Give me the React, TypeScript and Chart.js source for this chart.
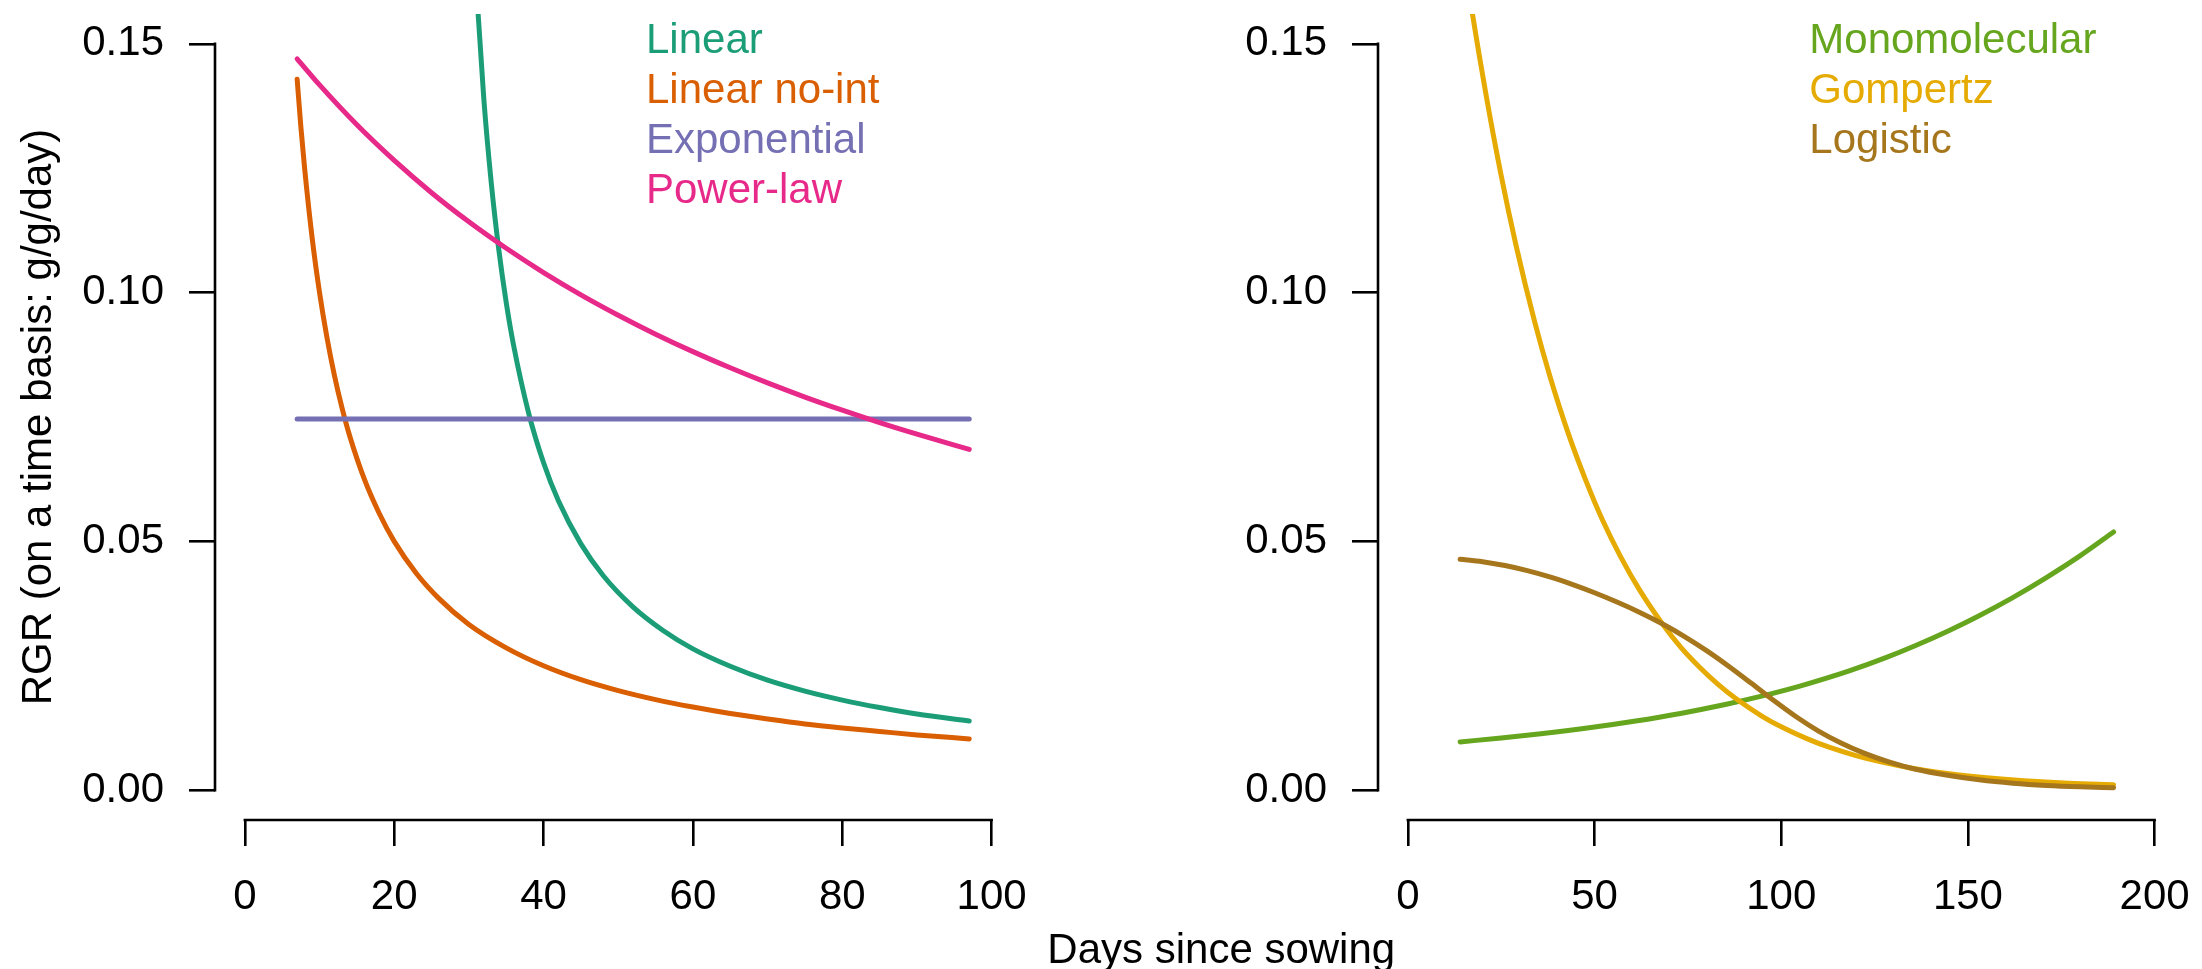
import React, { useEffect, useRef } from "react";
import { Chart, registerables } from "chart.js";

Chart.register(...registerables);

const W = 2202;
const H = 969;
const FONT = "'Liberation Sans', Arial, Helvetica, sans-serif";
const FS = 42;

// ---------- tick labels / titles ----------
const yTicks = [0, 0.05, 0.1, 0.15];
const leftXTicks = [0, 20, 40, 60, 80, 100];
const rightXTicks = [0, 50, 100, 150, 200];
const yTitle = "RGR (on a time basis: g/g/day)";
const xTitle = "Days since sowing";

// ---------- left panel series ----------
const linearDays = [30.5, 31, 32, 33, 34, 35, 36, 38, 40, 42, 45, 48, 52, 56, 60, 65, 70, 75, 80, 85, 90, 97];
const linearRGR = [0.1754, 0.1613, 0.1389, 0.122, 0.1087, 0.098, 0.0893, 0.0758, 0.0658, 0.0581, 0.0495, 0.0431, 0.0368, 0.0321, 0.0284, 0.0249, 0.0221, 0.0199, 0.0181, 0.0166, 0.0153, 0.0139];

const linearNoIntDays = [7, 7.5, 8, 9, 10, 11, 12, 13, 14, 16, 18, 20, 23, 26, 30, 35, 40, 45, 50, 55, 60, 65, 70, 75, 80, 85, 90, 97];
const linearNoIntRGR = [0.1429, 0.1333, 0.125, 0.1111, 0.1, 0.0909, 0.0833, 0.0769, 0.0714, 0.0625, 0.0556, 0.05, 0.0435, 0.0385, 0.0333, 0.0286, 0.025, 0.0222, 0.02, 0.0182, 0.0167, 0.0154, 0.0143, 0.0133, 0.0125, 0.0118, 0.0111, 0.0103];

const exponentialDays = [7, 97];
const exponentialRGR = [0.0746, 0.0746];

const powerDays = [7, 10, 15, 20, 25, 30, 35, 40, 45, 50, 55, 60, 65, 70, 75, 80, 85, 90, 97];
const powerRGR = [0.147, 0.14174, 0.13373, 0.12657, 0.12008, 0.11423, 0.10891, 0.10403, 0.09956, 0.09546, 0.09165, 0.08814, 0.08489, 0.08185, 0.07901, 0.07637, 0.07388, 0.07156, 0.0685];

// ---------- right panel series ----------
const monoDays = [14, 25, 35, 50, 61, 73, 85, 95, 105, 118, 128, 136, 145, 153, 162, 171, 180, 189];
const monoRGR = [0.0097, 0.01048, 0.01128, 0.01268, 0.01389, 0.01542, 0.01721, 0.01894, 0.02091, 0.02391, 0.02662, 0.02907, 0.0321, 0.03506, 0.03871, 0.04274, 0.0471, 0.0519];

const gompDays = [14, 17, 21, 25, 29, 34, 38, 43, 48, 52, 57, 62, 68, 73, 78, 83, 88, 95, 100, 107, 113, 120, 127, 135, 145, 155, 165, 177, 189];
const gompRGR = [0.1724, 0.1574, 0.1395, 0.1235, 0.1094, 0.094, 0.0833, 0.0716, 0.0616, 0.0545, 0.0469, 0.0403, 0.0336, 0.0288, 0.0248, 0.0213, 0.0183, 0.0148, 0.01273, 0.0103, 0.00858, 0.00695, 0.00562, 0.00441, 0.00328, 0.00248, 0.00189, 0.0014, 0.0011];

const logDays = [14, 20, 26, 32, 38, 44, 50, 56, 62, 68, 74, 80, 86, 92, 98, 104, 110, 116, 122, 129, 136, 145, 153, 162, 171, 180, 189];
const logRGR = [0.0464, 0.04592, 0.04514, 0.04412, 0.04286, 0.04136, 0.03968, 0.03782, 0.03578, 0.0335, 0.03092, 0.02804, 0.02486, 0.02147, 0.01802, 0.01475, 0.01187, 0.00947, 0.00749, 0.00563, 0.0042, 0.00294, 0.00208, 0.0014, 0.00095, 0.00067, 0.0005];

type Series = { label: string; days: number[]; rgr: number[]; color: string };

const leftSeries: Series[] = [
  { label: "Linear", days: linearDays, rgr: linearRGR, color: "#1B9E77" },
  { label: "Linear no-int", days: linearNoIntDays, rgr: linearNoIntRGR, color: "#D95F02" },
  { label: "Exponential", days: exponentialDays, rgr: exponentialRGR, color: "#7570B3" },
  { label: "Power-law", days: powerDays, rgr: powerRGR, color: "#E7298A" },
];

const rightSeries: Series[] = [
  { label: "Monomolecular", days: monoDays, rgr: monoRGR, color: "#66A61E" },
  { label: "Gompertz", days: gompDays, rgr: gompRGR, color: "#E6AB02" },
  { label: "Logistic", days: logDays, rgr: logRGR, color: "#A6761D" },
];

function makeDatasets(series: Series[]) {
  return series.map((s, i) => ({
    label: s.label,
    data: s.days.map((d, j) => ({ x: d, y: s.rgr[j] })),
    borderColor: s.color,
    backgroundColor: s.color,
    borderWidth: 5,
    pointRadius: 0,
    pointHoverRadius: 0,
    fill: false,
    cubicInterpolationMode: "monotone" as const,
    borderCapStyle: "round" as const,
    borderJoinStyle: "round" as const,
    clip: 0,
    order: series.length - i,
  }));
}

// R-style axis lines (span first..last tick) and text legend
const rDecor = {
  id: "rDecor",
  afterDraw(chart: any, _args: any, opts: any) {
    const { ctx, chartArea, scales } = chart;
    const xs = scales.x;
    const ys = scales.y;
    const xt = xs.ticks.map((t: any) => t.value);
    const yt = ys.ticks.map((t: any) => t.value);
    ctx.save();
    ctx.strokeStyle = "#000";
    ctx.lineWidth = 2.6;
    ctx.lineCap = "square";
    ctx.beginPath();
    ctx.moveTo(xs.getPixelForValue(xt[0]), chartArea.bottom);
    ctx.lineTo(xs.getPixelForValue(xt[xt.length - 1]), chartArea.bottom);
    ctx.moveTo(chartArea.left, ys.getPixelForValue(yt[0]));
    ctx.lineTo(chartArea.left, ys.getPixelForValue(yt[yt.length - 1]));
    ctx.stroke();

    ctx.font = `${FS}px ${FONT}`;
    ctx.textAlign = "left";
    ctx.textBaseline = "alphabetic";
    chart.data.datasets.forEach((ds: any, i: number) => {
      ctx.fillStyle = ds.borderColor;
      ctx.fillText(ds.label, chartArea.left + opts.dx, chartArea.top + opts.dy + i * opts.gap);
    });
    ctx.restore();
  },
};

const gridOpts = {
  display: true,
  drawOnChartArea: false,
  drawTicks: true,
  tickLength: 26,
  color: "#000",
  lineWidth: 2.6,
};

function xScale(ticks: number[], min: number, max: number, height: number) {
  return {
    type: "linear" as const,
    min,
    max,
    bounds: "data" as const,
    afterBuildTicks: (s: any) => {
      s.ticks = ticks.map((v) => ({ value: v }));
    },
    afterFit: (s: any) => {
      s.height = height;
      s.paddingLeft = 0;
      s.paddingRight = 0;
      s.paddingTop = 0;
      s.paddingBottom = 0;
    },
    grid: gridOpts,
    border: { display: false },
    ticks: {
      color: "#000",
      font: { family: FONT, size: FS },
      padding: 26,
      autoSkip: false,
      maxRotation: 0,
      minRotation: 0,
      callback: (v: any) => String(v),
    },
  };
}

function yScale(width: number, withTitle: boolean) {
  return {
    type: "linear" as const,
    min: -0.006,
    max: 0.156,
    bounds: "data" as const,
    afterBuildTicks: (s: any) => {
      s.ticks = yTicks.map((v) => ({ value: v }));
    },
    afterFit: (s: any) => {
      s.width = width;
      s.paddingLeft = 0;
      s.paddingRight = 0;
      s.paddingTop = 0;
      s.paddingBottom = 0;
    },
    grid: gridOpts,
    border: { display: false },
    ticks: {
      color: "#000",
      font: { family: FONT, size: FS },
      padding: 25,
      autoSkip: false,
      callback: (v: any) => Number(v).toFixed(2),
    },
    title: {
      display: withTitle,
      text: yTitle,
      color: "#000",
      font: { family: FONT, size: FS },
      padding: { top: 14, bottom: 0 },
    },
  };
}

function leftConfig(): any {
  return {
    type: "line",
    data: { datasets: makeDatasets(leftSeries) },
    options: {
      responsive: false,
      animation: false,
      events: [],
      layout: { padding: { left: 0, right: 1180.5, top: 14, bottom: 0 } },
      scales: {
        x: xScale(leftXTicks, -4, 104, 149),
        y: yScale(215, true),
      },
      plugins: {
        legend: { display: false },
        tooltip: { enabled: false },
        title: { display: false },
        rDecor: { dx: 431, dy: 39.3, gap: 49.9 },
      },
    },
    plugins: [rDecor],
  };
}

function rightConfig(): any {
  return {
    type: "line",
    data: { datasets: makeDatasets(rightSeries) },
    options: {
      responsive: false,
      animation: false,
      events: [],
      layout: { padding: { left: 258, right: 17.5, top: 14, bottom: 0 } },
      scales: {
        x: xScale(rightXTicks, -8, 208, 113),
        y: yScale(1120, false),
      },
      plugins: {
        legend: { display: false },
        tooltip: { enabled: false },
        title: {
          display: true,
          text: xTitle,
          position: "bottom",
          align: "center",
          color: "#000",
          font: { family: FONT, size: FS, lineHeight: 36 / 42, weight: "normal" },
          padding: { top: 0, bottom: 0 },
        },
        rDecor: { dx: 431.3, dy: 39.3, gap: 49.9 },
      },
    },
    plugins: [rDecor],
  };
}

export default function App() {
  const leftRef = useRef<HTMLCanvasElement | null>(null);
  const rightRef = useRef<HTMLCanvasElement | null>(null);

  useEffect(() => {
    document.body.style.margin = "0";
    Chart.defaults.font.family = FONT;
    const c1 = new Chart(leftRef.current as HTMLCanvasElement, leftConfig());
    const c2 = new Chart(rightRef.current as HTMLCanvasElement, rightConfig());
    return () => {
      c1.destroy();
      c2.destroy();
    };
  }, []);

  const canvasStyle: React.CSSProperties = { position: "absolute", left: 0, top: 0, width: W, height: H };
  return (
    <div style={{ position: "absolute", left: 0, top: 0, width: W, height: H, background: "#fff", overflow: "hidden" }}>
      <canvas ref={leftRef} width={W} height={H} style={canvasStyle} />
      <canvas ref={rightRef} width={W} height={H} style={canvasStyle} />
    </div>
  );
}
